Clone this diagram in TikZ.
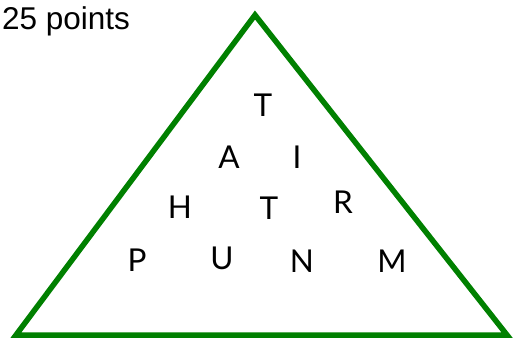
\documentclass[tikz,border=0pt]{standalone}
\usepackage{fontspec}
\setmainfont{Liberation Sans}
\newfontfamily\letterfont{Lato}
\usepackage{tikz}
\usetikzlibrary{positioning}
\definecolor{TriGreen}{RGB}{0,128,0}
\definecolor{TriDark}{RGB}{0,0,0}

\begin{document}
\begin{tikzpicture}[x=1pt, y=-1pt,
    letter/.style={font=\letterfont\fontsize{31.5}{33}\selectfont, text=TriDark, inner sep=0pt}]
      \useasboundingbox (0,0) rectangle (513,345);

      % Title
      \node[anchor=base west, inner sep=0pt, font=\fontsize{31.5}{33}\selectfont] (title) at (2,30) {25 points};

      % Triangle
      \coordinate (apex) at (255,15);
      \coordinate (left) at (16,335);
      \coordinate (right) at (507,335);
      \draw[TriGreen, line width=5.5pt, line join=miter] (apex) -- (right) -- (left) -- cycle;

      % Letters
      \foreach \x/\y/\ch/\nm in {263/105/T/t1, 229/157/A/a, 297/157/I/i, 180/207/H/h, 269/208/T/t2,
                                 343/202/R/r, 137/260/P/p, 222/258/U/u, 302/261/N/n, 392/261/M/m} {
        \node[letter] (\nm) at (\x,\y) {\ch};
      }
    \end{tikzpicture}
\end{document}
